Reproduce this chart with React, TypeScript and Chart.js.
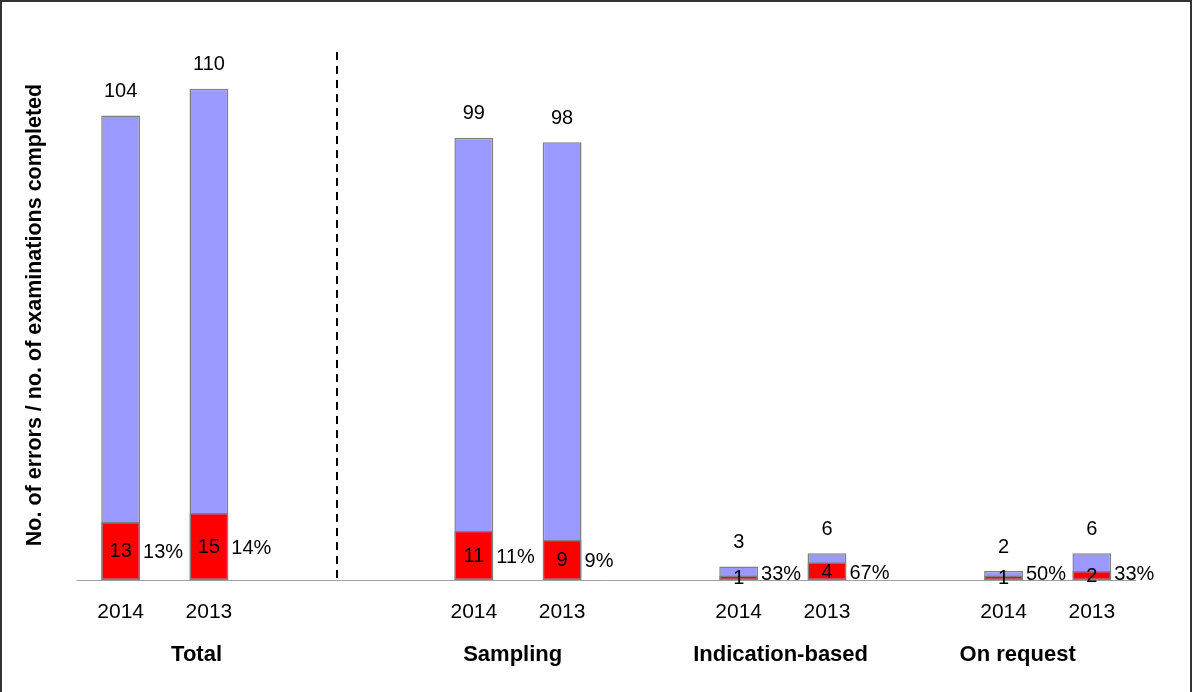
import React, { useEffect, useRef } from "react";
import { Chart, registerables } from "chart.js";

Chart.register(...registerables);

// Slots along the x axis; empty strings are spacer slots between groups.
const yearLabels = ["2014", "2013", "", "", "2014", "2013", "", "2014", "2013", "", "2014", "2013"];
// Number of examinations completed per slot.
const examinations = [104, 110, null, null, 99, 98, null, 3, 6, null, 2, 6];
// Number of errors per slot.
const errors = [13, 15, null, null, 11, 9, null, 1, 4, null, 1, 2];
// Error share labels per slot.
const errorShares = ["13%", "14%", "", "", "11%", "9%", "", "33%", "67%", "", "50%", "33%"];
// Group captions below the years.
const groupNames = ["Total", "Sampling", "Indication-based", "On request"];

const yTitle = "No. of errors / no. of examinations completed";
const FONT = '"Liberation Sans", Arial, sans-serif';

// Where each group caption and the separator sit, in slot units.
const groupCaptionAt = [0.86, 4.44, 7.475, 10.16];
const separatorAt = 2.45;

const annotations = {
  id: "annotations",
  afterDatasetsDraw(chart: any) {
    const { ctx, chartArea, scales } = chart;
    const xs = scales.x;
    const ys = scales.y;
    const examMeta = chart.getDatasetMeta(0);
    const errMeta = chart.getDatasetMeta(1);
    ctx.save();

    // baseline
    const y0 = Math.round(ys.getPixelForValue(0)) + 0.5;
    ctx.strokeStyle = "#a0a0a0";
    ctx.lineWidth = 1;
    ctx.beginPath();
    ctx.moveTo(chartArea.left, y0);
    ctx.lineTo(chartArea.right, y0);
    ctx.stroke();

    // dashed separator between Total and the breakdown groups
    const sx = Math.round(xs.getPixelForValue(separatorAt));
    ctx.strokeStyle = "#000";
    ctx.lineWidth = 2;
    ctx.setLineDash([8, 6]);
    ctx.beginPath();
    ctx.moveTo(sx, 52);
    ctx.lineTo(sx, y0);
    ctx.stroke();
    ctx.setLineDash([]);

    ctx.fillStyle = "#000";
    ctx.textBaseline = "middle";

    for (let i = 0; i < yearLabels.length; i++) {
      if (examinations[i] == null) continue;
      const ex = examMeta.data[i];
      const er = errMeta.data[i];
      ctx.font = `20px ${FONT}`;
      ctx.textAlign = "center";
      ctx.fillText(String(examinations[i]), ex.x, ex.y - 24);
      const mid = (er.y + er.base) / 2;
      ctx.fillText(String(errors[i]), er.x, mid + 1);
      ctx.textAlign = "left";
      ctx.fillText(errorShares[i], ex.x + ex.width / 2 + 3, Math.min(mid + 2, 574));
      // year under the bar
      ctx.font = `21px ${FONT}`;
      ctx.textAlign = "center";
      ctx.fillText(yearLabels[i], ex.x, 612);
    }

    ctx.font = `bold 22px ${FONT}`;
    ctx.textAlign = "center";
    groupNames.forEach((name, k) => {
      ctx.fillText(name, xs.getPixelForValue(groupCaptionAt[k]), 655);
    });

    // y axis title
    ctx.save();
    ctx.translate(35, 315);
    ctx.rotate(-Math.PI / 2);
    ctx.font = `bold 21.5px ${FONT}`;
    ctx.fillText(yTitle, 0, 0);
    ctx.restore();

    // frame
    ctx.strokeStyle = "#333";
    ctx.lineWidth = 2;
    ctx.beginPath();
    ctx.moveTo(1, 700);
    ctx.lineTo(1, 1);
    ctx.lineTo(1191, 1);
    ctx.lineTo(1191, 700);
    ctx.stroke();

    ctx.restore();
  },
};

export default function App() {
  const ref = useRef<HTMLCanvasElement>(null);

  useEffect(() => {
    if (!ref.current) return;
    const chart = new Chart(ref.current, {
      type: "bar",
      data: {
        labels: yearLabels,
        datasets: [
          {
            label: "Examinations",
            data: examinations,
            backgroundColor: "#9999ff",
            borderColor: "#808080",
            borderWidth: 1.5,
            borderSkipped: false,
            grouped: false,
            order: 2,
          },
          {
            label: "Errors",
            data: errors,
            backgroundColor: "#ff0000",
            borderColor: "#808080",
            borderWidth: 1.5,
            borderSkipped: false,
            grouped: false,
            order: 1,
          },
        ],
      },
      options: {
        responsive: false,
        animation: false,
        devicePixelRatio: 1,
        layout: { padding: { left: 76.5, right: 57, top: 44, bottom: 112 } },
        datasets: { bar: { categoryPercentage: 1, barPercentage: 0.44 } },
        plugins: { legend: { display: false }, tooltip: { enabled: false } },
        scales: {
          x: { type: "category", display: false, offset: true },
          y: { display: false, min: 0, max: 120 },
        },
      },
      plugins: [annotations],
    });
    return () => chart.destroy();
  }, []);

  return (
    <div style={{ position: "fixed", left: 0, top: 0, width: 1193, height: 692, background: "#fff" }}>
      <canvas ref={ref} width={1193} height={692} style={{ display: "block" }} />
    </div>
  );
}
